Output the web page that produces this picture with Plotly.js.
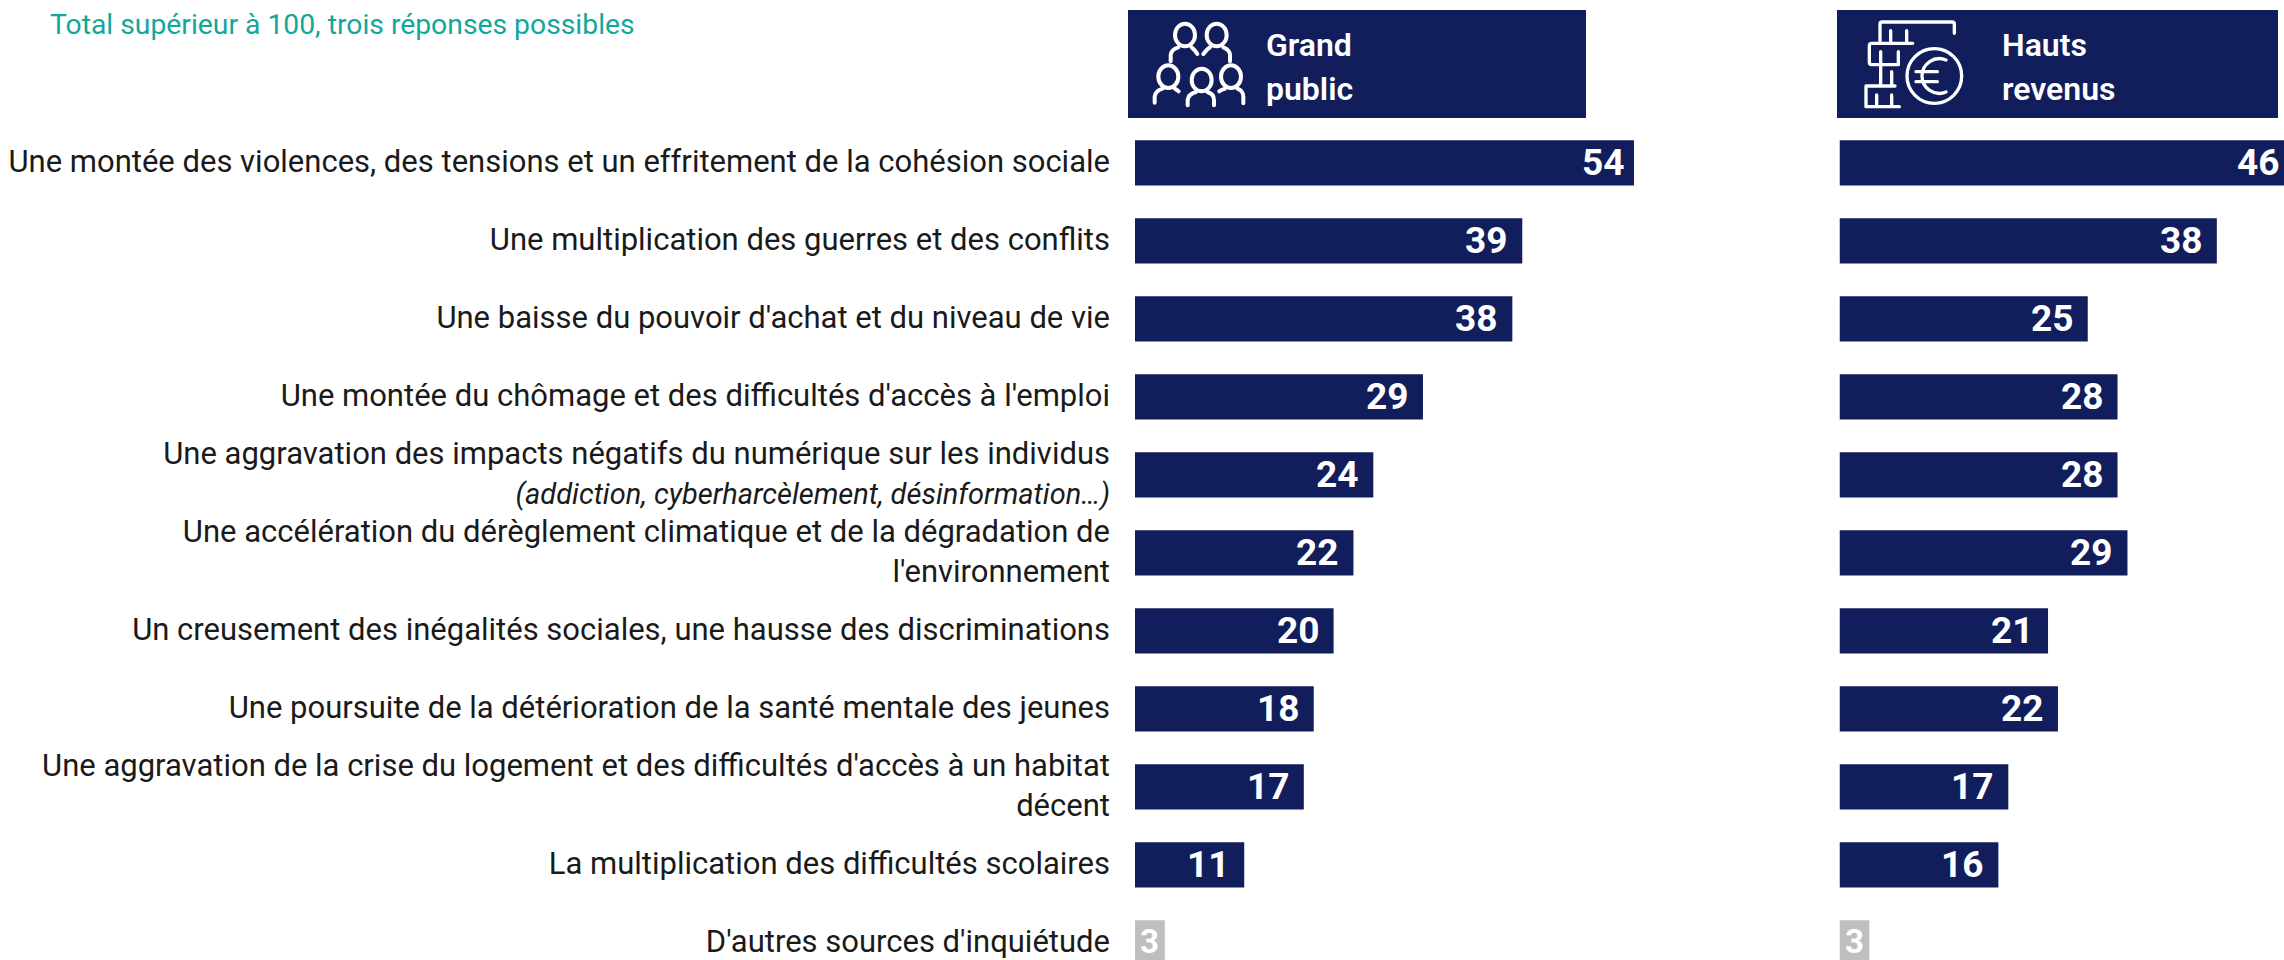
<!DOCTYPE html>
<html><head><meta charset="utf-8">
<script src="https://cdn.plot.ly/plotly-3.0.1.min.js"></script>
<style>html,body{margin:0;padding:0;background:#fff;overflow:hidden}</style>
</head><body><div id="chart" style="width:2284px;height:960px"></div>
<script>
const categories = [
 "Une montée des violences, des tensions et un effritement de la cohésion sociale",
 "Une multiplication des guerres et des conflits",
 "Une baisse du pouvoir d'achat et du niveau de vie",
 "Une montée du chômage et des difficultés d'accès à l'emploi",
 "Une aggravation des impacts négatifs du numérique sur les individus<br><i><span style=\"font-size:29px\">(addiction, cyberharcèlement, désinformation…)</span></i>",
 "Une accélération du dérèglement climatique et de la dégradation de<br>l'environnement",
 "Un creusement des inégalités sociales, une hausse des discriminations",
 "Une poursuite de la détérioration de la santé mentale des jeunes",
 "Une aggravation de la crise du logement et des difficultés d'accès à un habitat<br>décent",
 "La multiplication des difficultés scolaires",
 "D'autres sources d'inquiétude"
];
const grandPublic = [54,39,38,29,24,22,20,18,17,11,3];
const hautsRevenus = [46,38,25,28,28,29,21,22,17,16,3];
const NAVY = "#121E5C", GREY = "#BFBFBF", TEAL = "#12A79B";
const W = 2284, H = 960;
const SCALE = 9.93, ROW = 78.02, FIRST = 162.8;
const L0 = 1135, L1 = 1634, R0 = 1839.5, R1 = 2284;
const maxL = (L1-L0)/SCALE, maxR = (R1-R0)/SCALE;
const colors = vals => vals.map((_,i)=> i===vals.length-1 ? GREY : NAVY);

const traces = [
 {type:"bar",orientation:"h",y:categories,x:grandPublic,xaxis:"x",yaxis:"y",marker:{color:colors(grandPublic),line:{width:0}},hoverinfo:"skip"},
 {type:"bar",orientation:"h",y:categories,x:hautsRevenus,xaxis:"x2",yaxis:"y",marker:{color:colors(hautsRevenus),line:{width:0}},hoverinfo:"skip"}
];

function valueLabels(vals, xref, max, clipShift){
 return vals.map((v,i)=>{
  const clipped = v>max, small = i===vals.length-1;
  return {xref:xref,yref:"y",x:small? v/2 : Math.min(v,max),y:categories[i],text:String(v),showarrow:false,
   xanchor:small?"center":"right",xshift:small?0:(clipped?clipShift:-13),yshift:small?2:0,
   font:{family:"Roboto, sans-serif",size:small?33:37,color:"#fff",weight:700}};
 });
}
const hdr = (x0,x1)=>({type:"rect",xref:"paper",yref:"paper",x0:x0/W,x1:x1/W,y0:1-118/H,y1:1-10/H,fillcolor:NAVY,line:{width:0},layer:"below"});
const txt = (x,y,t,size,color,weight,anchor)=>({xref:"paper",yref:"paper",x:x/W,y:1-y/H,text:t,showarrow:false,xanchor:anchor||"left",yanchor:"middle",
   font:{family:"Roboto, sans-serif",size:size,color:color,weight:weight||400},borderpad:0});

const svg1 = `<svg xmlns="http://www.w3.org/2000/svg" width="1500" height="600" viewBox="0 0 1500 600"><g fill="none" stroke="#fff" stroke-width="12" stroke-linecap="round" stroke-linejoin="round">
<ellipse cx="255" cy="105" rx="30" ry="34"/><path d="M212 184 V165 Q214 148 235 142 M275 142 Q285 150 292 162"/>
<ellipse cx="350" cy="105" rx="30" ry="34"/><path d="M310 162 Q320 148 330 142 M370 142 Q390 150 390 165 V184"/>
<ellipse cx="205" cy="230" rx="30" ry="34"/><path d="M164 308 V290 Q166 272 188 266 M225 266 Q232 270 236 274"/>
<ellipse cx="305" cy="240" rx="30" ry="34"/><path d="M263 316 V300 Q265 282 288 276 M322 276 Q342 282 342 300 V316"/>
<ellipse cx="393" cy="230" rx="30" ry="34"/><path d="M358 274 Q365 268 375 266 M412 266 Q430 272 430 290 V310"/>
</g></svg>`;
const svg2 = `<svg xmlns="http://www.w3.org/2000/svg" width="1452" height="600" viewBox="0 0 1452 600"><g fill="none" stroke="#fff" stroke-width="10" stroke-linecap="round" stroke-linejoin="round">
<path d="M240 128 V72 Q240 66 246 66 H456 Q463 66 463 72 V100"/>
<path d="M272 92 V128 M320 92 V128 M338 130 H215 Q208 130 208 138 V186 Q208 194 215 194 H295 V155 M242 155 V258 M275 215 V258 M200 258 H285 M198 258 V320 H298 M230 285 V320 M275 285 V320"/>
<circle cx="403" cy="228" r="82"/><path d="M438 180 A52 52 0 1 0 438 276 M348 215 H412 M348 245 H412"/>
</g></svg>`;
const uri = s=>"data:image/svg+xml;base64,"+btoa(s);

const layout = {
 width:W,height:H,margin:{l:0,r:0,t:0,b:0},paper_bgcolor:"#fff",plot_bgcolor:"rgba(0,0,0,0)",
 showlegend:false,bargap:0.42,barmode:"overlay",
 font:{family:"Roboto, sans-serif",color:"#1a1a1a"},
 xaxis:{domain:[L0/W,L1/W],range:[0,maxL],visible:false,fixedrange:true},
 xaxis2:{domain:[R0/W,R1/W],range:[0,maxR],visible:false,fixedrange:true,anchor:"y"},
 yaxis:{type:"category",categoryorder:"array",categoryarray:categories,anchor:"x",domain:[0,1],
  range:[(H-FIRST)/ROW,-FIRST/ROW],showgrid:false,zeroline:false,showline:false,ticks:"",ticklabelstandoff:24,ticklabelshift:2,
  tickfont:{family:"Roboto, sans-serif",size:31,color:"#1a1a1a"},fixedrange:true},
 shapes:[hdr(1128,1586),hdr(1837,2278)],
 images:[
  {source:uri(svg1),xref:"paper",yref:"paper",x:1100/W,y:1,sizex:500/W,sizey:200/H,xanchor:"left",yanchor:"top",sizing:"stretch",layer:"above"},
  {source:uri(svg2),xref:"paper",yref:"paper",x:1800/W,y:1,sizex:484/W,sizey:200/H,xanchor:"left",yanchor:"top",sizing:"stretch",layer:"above"}
 ],
 annotations:[
  txt(49,25,"Total supérieur à 100, trois réponses possibles",28.3,TEAL),
  txt(1265,45,"Grand",32,"#fff",600),
  txt(1265,89,"public",32,"#fff",600),
  txt(2001,45,"Hauts",32,"#fff",600),
  txt(2001,89,"revenus",32,"#fff",600),
  ...valueLabels(grandPublic,"x",maxL,-8),
  ...valueLabels(hautsRevenus,"x2",maxR,-3)
 ]
};
Plotly.newPlot("chart",traces,layout,{displayModeBar:false,staticPlot:true});
</script></body></html>
